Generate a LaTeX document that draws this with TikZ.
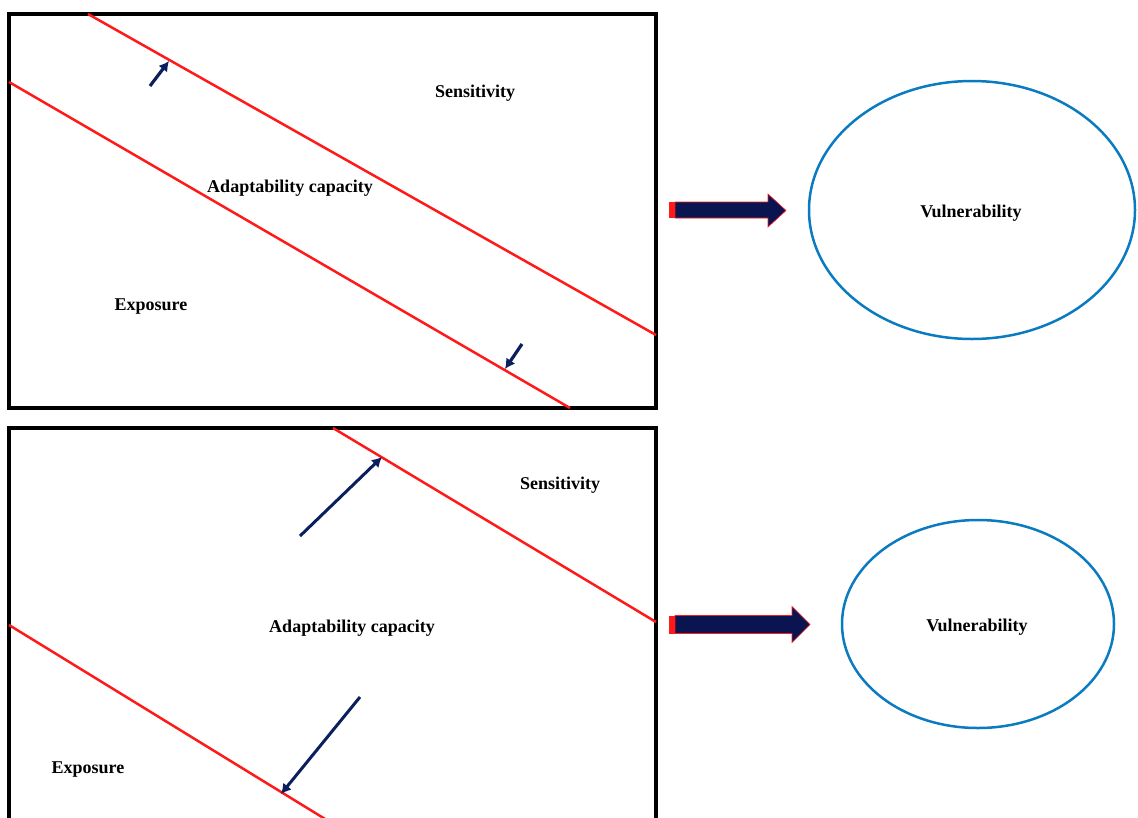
\documentclass[tikz,border=0pt]{standalone}
\usepackage{fontspec}
\setmainfont{Liberation Serif}
\usetikzlibrary{arrows.meta}
\definecolor{navy}{HTML}{0B1F5E}
\definecolor{bignavy}{HTML}{0A1450}
\definecolor{redline}{HTML}{FF1A1A}
\definecolor{ellblue}{HTML}{0A7BC0}
\tikzset{
  panel/.style={draw=black,line width=3.5pt},
  redl/.style={draw=redline,line width=2.5pt},
  push/.style={draw=navy,line width=3pt,-{Latex[length=10pt,width=11pt]}},
  lbl/.style={font=\fontsize{18}{18}\selectfont\bfseries,inner sep=0pt},
  vul/.style={draw=ellblue,line width=2.5pt},
  bigarrow/.style={fill=bignavy,draw=redline,line width=0.6pt},
  capr/.style={fill=redline,draw=none}
}
\begin{document}
\begin{tikzpicture}[x=1pt,y=-1pt]
\useasboundingbox (0,0) rectangle (1138,817);
% ---------- top panel ----------
\draw[panel] (9,14) rectangle (656,408);
\coordinate (t1a) at (88,14);
\coordinate (t1b) at (656,335);
\coordinate (t2a) at (9,82);
\coordinate (t2b) at (570,408);
\draw[redl] (t1a) -- (t1b);
\draw[redl] (t2a) -- (t2b);
\coordinate (ta1s) at (150,86);
\coordinate (ta1e) at (169,61);
\coordinate (ta2s) at (522,344);
\coordinate (ta2e) at (505,369);
\draw[push,line width=3.2pt] (ta1s) -- (ta1e);
\draw[push,line width=3.2pt] (ta2s) -- (ta2e);
\node[lbl] (sens1) at (475,93) {Sensitivity};
\node[lbl] (adap1) at (290,188) {Adaptability capacity};
\node[lbl] (expo1) at (151,307) {Exposure};
% big arrow top
\fill[capr] (669,202) rectangle (676,218);
\draw[bigarrow] (675,202) -- (768,202) -- (768,194) -- (786,210.5) -- (768,227) -- (768,218) -- (675,218) -- cycle;
\draw[vul] (972,210) ellipse [x radius=163,y radius=129];
\node[lbl] (vul1) at (971,213) {Vulnerability};
% ---------- bottom panel ----------
\draw[panel] (9,830) -- (9,428) -- (656,428) -- (656,830);
\coordinate (b1a) at (333,428);
\coordinate (b1b) at (656,622);
\coordinate (b2a) at (9,625);
\coordinate (b2b) at (330,822);
\draw[redl] (b1a) -- (b1b);
\draw[redl] (b2a) -- (b2b);
\coordinate (ba1s) at (300,536);
\coordinate (ba1e) at (382,457);
\coordinate (ba2s) at (360,697);
\coordinate (ba2e) at (281,794);
\draw[push] (ba1s) -- (ba1e);
\draw[push] (ba2s) -- (ba2e);
\node[lbl] (sens2) at (560,485) {Sensitivity};
\node[lbl] (adap2) at (352,628) {Adaptability capacity};
\node[lbl] (expo2) at (88,770) {Exposure};
% big arrow bottom
\fill[capr] (669,615.5) rectangle (676,633.5);
\draw[bigarrow] (675,615.5) -- (792,615.5) -- (792,606.5) -- (810,624.5) -- (792,642.5) -- (792,633.5) -- (675,633.5) -- cycle;
\draw[vul] (978,624) ellipse [x radius=136,y radius=104];
\node[lbl] (vul2) at (977,627) {Vulnerability};
\end{tikzpicture}
\end{document}
